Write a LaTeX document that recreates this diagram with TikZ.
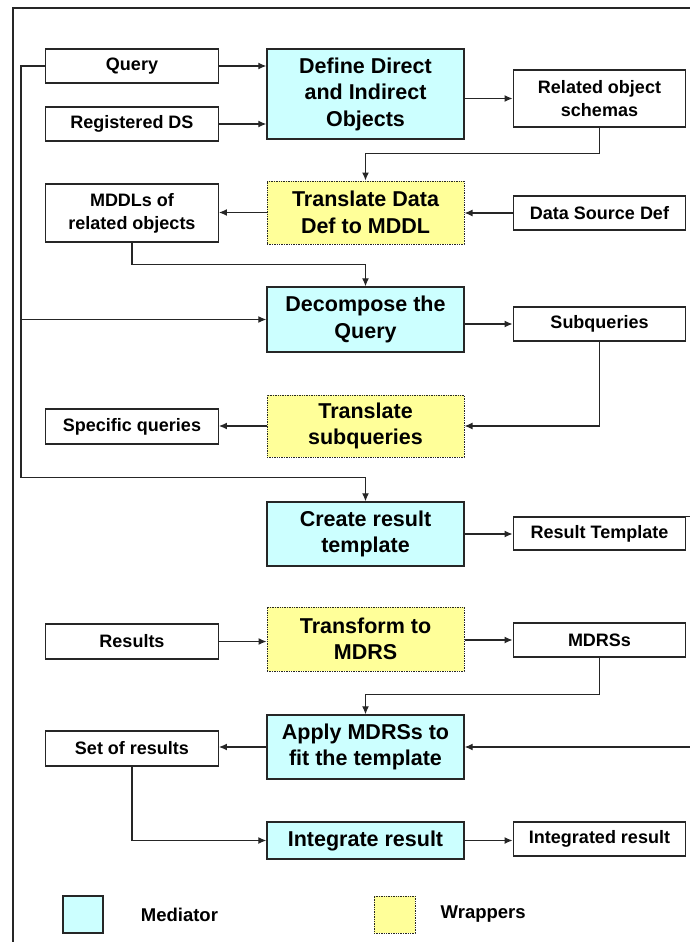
\documentclass[tikz,border=0pt]{standalone}
\usepackage{fontspec}
\setmainfont{Liberation Sans}
\usepackage{tikz}
\usetikzlibrary{positioning, arrows.meta, calc}

\definecolor{medcyan}{HTML}{CCFFFF}
\definecolor{wrapyellow}{HTML}{FFFF99}
\definecolor{lineclr}{HTML}{262626}

\tikzset{
  box/.style={draw=lineclr, line width=1.4pt, fill=white, inner sep=0pt, align=center,
    minimum width=172.5pt, minimum height=34pt, font=\fontsize{18}{23}\selectfont\bfseries},
  medbox/.style={box, fill=medcyan, minimum width=197pt, minimum height=64pt,
    font=\fontsize{21.5}{26.5}\selectfont\bfseries},
  wrapbox/.style={medbox, fill=wrapyellow, densely dotted, line width=1pt},
  legtext/.style={inner sep=0pt, font=\fontsize{18.5}{22}\selectfont\bfseries},
  arr/.style={draw=lineclr, line width=1.2pt, -{Latex[length=8pt,width=7pt]}},
}

\begin{document}
\begin{tikzpicture}[x=1pt, y=-1pt]
  \useasboundingbox (0,0) rectangle (690,942);
  % frame
  \draw[lineclr, line width=1.2pt] (13,8) rectangle (730,990);

  % Nodes
  \node[box] (query) at (132,66) {Query};
  \node[box] (regds) at (132,124) {Registered DS};
  \node[box, minimum height=58pt] (mddl) at (132,213) {MDDLs of\\related objects};
  \node[box, minimum height=35pt] (specq) at (132,426.5) {Specific queries};
  \node[box, minimum height=35pt] (results) at (132,641.5) {Results};
  \node[box, minimum height=35pt] (setres) at (132,748.5) {Set of results};

  \node[medbox, minimum height=90pt] (define) at (365.5,94) {Define Direct\\and Indirect\\Objects};
  \node[wrapbox, minimum height=63pt] (tdd) at (365.5,212.5) {Translate Data\\Def to MDDL};
  \node[medbox, minimum height=65pt] (decomp) at (365.5,319.5) {Decompose the\\Query};
  \node[wrapbox, minimum height=62pt] (transq) at (365.5,426) {Translate\\subqueries};
  \node[medbox] (create) at (365.5,534) {Create result\\template};
  \node[wrapbox] (transform) at (365.5,639) {Transform to\\MDRS};
  \node[medbox] (apply) at (365.5,747) {Apply MDRSs to\\fit the template};
  \node[medbox, minimum height=37pt] (integ) at (365.5,840.5) {Integrate result};

  \node[box, minimum height=57pt] (related) at (599.5,98.5) {Related object\\schemas};
  \node[box] (dsd) at (599.5,213) {Data Source Def};
  \node[box] (subq) at (599.5,324) {Subqueries};
  \node[box, minimum height=33pt] (restmpl) at (599.5,533.5) {Result Template};
  \node[box] (mdrs) at (599.5,640) {MDRSs};
  \node[box] (intres) at (599.5,839) {Integrated result};

  % legend
  \node[medbox, minimum width=40pt, minimum height=37pt] (legmed) at (83,914.5) {};
  \node[legtext, right=37pt of legmed] (legmedtxt) {Mediator};
  \node[wrapbox, minimum width=41pt, minimum height=37pt] (legwrap) at (394.5,914.5) {};
  \node[legtext, right=25pt of legwrap] (legwraptxt) {Wrappers};

  % Arrows
  \draw[arr] (query.east) -- (query.east -| define.west);
  \draw[arr] (regds.east) -- (regds.east -| define.west);
  \draw[arr] (related.west -| define.east) -- (related.west);
  \draw[arr] (related.south) -- ++(0,26) -| (tdd.north);
  \draw[arr] (tdd.west) -- (tdd.west -| mddl.east);
  \draw[arr] (dsd.west) -- (dsd.west -| tdd.east);
  \draw[arr] (mddl.south) -- ++(0,22) -| (decomp.north);
  \draw[arr] (subq.west -| decomp.east) -- (subq.west);
  \draw[arr] (subq.south) |- (transq.east);
  \draw[arr] (transq.west) -- (transq.west -| specq.east);

  \coordinate (trunk) at ($(query.west)+(-24,0)$);
  \draw[arr] (query.west) -- (trunk) |- ($(create.north)+(0,-24)$) -- (create.north);
  \draw[arr] (trunk |- decomp.west) -- (decomp.west);

  \draw[arr] (create.east) -- (create.east -| restmpl.west);
  \draw[arr] (results.east) -- (results.east -| transform.west);
  \draw[arr] (mdrs.west -| transform.east) -- (mdrs.west);
  \draw[arr] (mdrs.south) -- ++(0,37) -| (apply.north);
  \draw[arr] (apply.west) -- (apply.west -| setres.east);
  \draw[arr] (restmpl.north east) -- ++(22,0) |- (apply.east);
  \draw[arr] (setres.south) |- (integ.west);
  \draw[arr] (integ.east) -- (integ.east -| intres.west);
\end{tikzpicture}
\end{document}
